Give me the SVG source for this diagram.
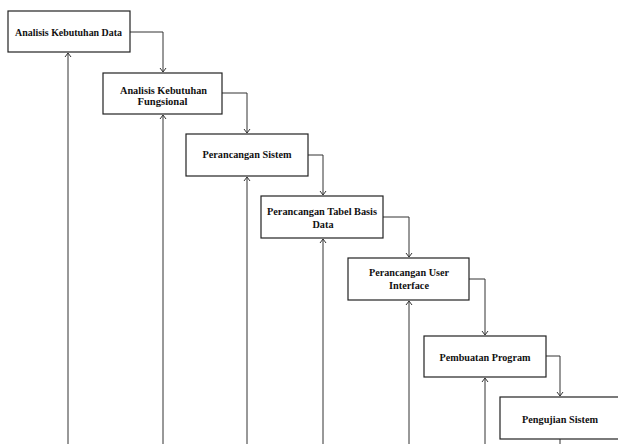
<svg xmlns="http://www.w3.org/2000/svg" width="618" height="444" viewBox="0 0 618 444">
<style>
.box{fill:#fff;stroke:#222;stroke-width:1.2}
.t{font-family:"Liberation Serif",serif;font-weight:bold;font-size:10.8px;fill:#111;text-anchor:middle}
.c{fill:none;stroke:#333;stroke-width:1}
</style>
<defs>
<marker id="a" viewBox="-5 -5 10 10" markerWidth="10" markerHeight="10" refX="0" refY="0" orient="auto" markerUnits="userSpaceOnUse">
<path d="M-4,-3 L0,0 L-4,3" fill="none" stroke="#333" stroke-width="1"/>
</marker>
</defs>
<g id="connectors">
<path class="c" d="M130,32 H163 V72" marker-end="url(#a)"/>
<path class="c" d="M222,93 H247 V133" marker-end="url(#a)"/>
<path class="c" d="M308,155 H323 V195" marker-end="url(#a)"/>
<path class="c" d="M383,217 H409 V257" marker-end="url(#a)"/>
<path class="c" d="M469,279 H485 V335" marker-end="url(#a)"/>
<path class="c" d="M546,356 H560 V396" marker-end="url(#a)"/>
<path class="c" d="M560,439 V444"/>
<path class="c" d="M68,444 V53" marker-end="url(#a)"/>
<path class="c" d="M163,444 V115" marker-end="url(#a)"/>
<path class="c" d="M247,444 V177" marker-end="url(#a)"/>
<path class="c" d="M323,444 V239" marker-end="url(#a)"/>
<path class="c" d="M409,444 V301" marker-end="url(#a)"/>
<path class="c" d="M485,444 V378" marker-end="url(#a)"/>
</g>
<g id="n1"><rect class="box" x="8" y="11" width="122" height="41"/><text class="t" x="68.5" y="35.5" textLength="107" lengthAdjust="spacingAndGlyphs">Analisis Kebutuhan Data</text></g>
<g id="n2"><rect class="box" x="103" y="73" width="119" height="41"/><text class="t" x="163.5" y="93.5" textLength="87" lengthAdjust="spacingAndGlyphs">Analisis Kebutuhan</text><text class="t" x="162.5" y="105" textLength="50" lengthAdjust="spacingAndGlyphs">Fungsional</text></g>
<g id="n3"><rect class="box" x="186" y="134" width="122" height="42"/><text class="t" x="247" y="158" textLength="89" lengthAdjust="spacingAndGlyphs">Perancangan Sistem</text></g>
<g id="n4"><rect class="box" x="261" y="196" width="122" height="42"/><text class="t" x="322" y="215" textLength="110" lengthAdjust="spacingAndGlyphs">Perancangan Tabel Basis</text><text class="t" x="323" y="228" textLength="21" lengthAdjust="spacingAndGlyphs">Data</text></g>
<g id="n5"><rect class="box" x="348" y="258" width="121" height="42"/><text class="t" x="409" y="276" textLength="80" lengthAdjust="spacingAndGlyphs">Perancangan User</text><text class="t" x="409" y="289" textLength="40" lengthAdjust="spacingAndGlyphs">Interface</text></g>
<g id="n6"><rect class="box" x="424" y="336" width="122" height="41"/><text class="t" x="485" y="361" textLength="91" lengthAdjust="spacingAndGlyphs">Pembuatan Program</text></g>
<g id="n7"><rect class="box" x="500" y="397" width="122" height="42"/><text class="t" x="560" y="422.5" textLength="76" lengthAdjust="spacingAndGlyphs">Pengujian Sistem</text></g>
</svg>
